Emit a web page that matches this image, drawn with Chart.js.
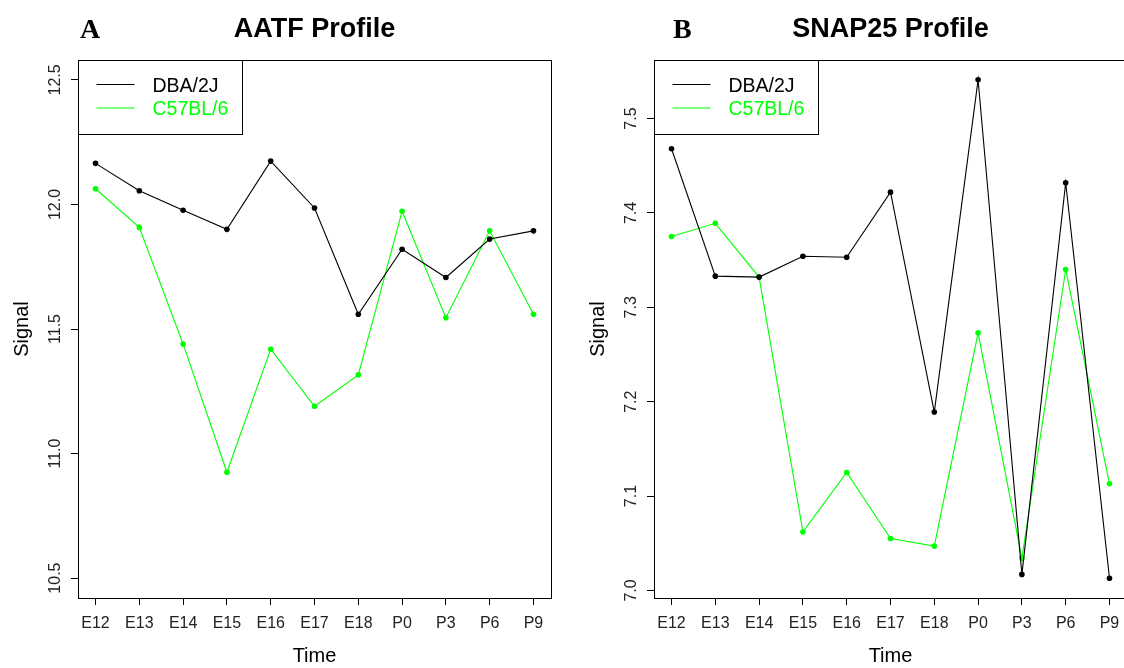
<!DOCTYPE html>
<html>
<head>
<meta charset="utf-8">
<title>AATF / SNAP25 Profile</title>
<script src="https://cdn.jsdelivr.net/npm/chart.js@4.4.1/dist/chart.umd.min.js"></script>
<style>
  html, body { margin: 0; padding: 0; background: #fff; }
  body { width: 1124px; height: 668px; overflow: hidden; position: relative; }
  .panel { position: absolute; top: 0; width: 576px; height: 668px; }
</style>
</head>
<body>
<div class="panel" style="left:0"><canvas id="aatfChart" width="576" height="668"></canvas></div>
<div class="panel" style="left:576px"><canvas id="snapChart" width="576" height="668"></canvas></div>

<script>
// Time points shared by both profiles
const timePoints = ['E12', 'E13', 'E14', 'E15', 'E16', 'E17', 'E18', 'P0', 'P3', 'P6', 'P9'];

// AATF signal per strain
const aatfDBA = [12.165, 12.055, 11.977, 11.900, 12.174, 11.986, 11.559, 11.820, 11.707, 11.861, 11.894];
const aatfB6  = [12.063, 11.908, 11.440, 10.925, 11.419, 11.190, 11.316, 11.973, 11.545, 11.894, 11.559];
const aatfTicks = [10.5, 11.0, 11.5, 12.0, 12.5];

// SNAP25 signal per strain
const snapDBA = [7.468, 7.333, 7.332, 7.354, 7.353, 7.422, 7.189, 7.541, 7.017, 7.432, 7.013];
const snapB6  = [7.375, 7.389, 7.332, 7.062, 7.125, 7.055, 7.047, 7.273, 7.034, 7.340, 7.113];
const snapTicks = [7.0, 7.1, 7.2, 7.3, 7.4, 7.5];

const SANS = '"Liberation Sans", Arial, Helvetica, sans-serif';
Chart.defaults.font.family = SANS;
Chart.defaults.color = '#000';

/**
 * Box around the plotting region (R style bty="o")
 */
const frameBox = {
  id: 'frameBox',
  afterDraw(chart) {
    const { ctx, chartArea: a } = chart;
    ctx.save();
    ctx.strokeStyle = '#000';
    ctx.lineWidth = 1;
    ctx.strokeRect(Math.round(a.left) + 0.5, Math.round(a.top) + 0.5,
      Math.round(a.right - a.left), Math.round(a.bottom - a.top));
    ctx.restore();
  }
};

/**
 * Legend drawn inside the top-left corner of the plot
 */
const insetLegend = {
  id: 'insetLegend',
  afterDatasetsDraw(chart) {
    const { ctx, chartArea: a } = chart;
    const x0 = Math.round(a.left) + 0.5;
    const y0 = Math.round(a.top) + 0.5;
    ctx.save();
    ctx.fillStyle = '#fff';
    ctx.fillRect(x0, y0, 164, 74);
    ctx.strokeStyle = '#000';
    ctx.lineWidth = 1;
    ctx.strokeRect(x0, y0, 164, 74);
    ctx.font = '19.5px ' + SANS;
    ctx.textBaseline = 'middle';
    ctx.textAlign = 'left';
    chart.data.datasets.forEach((ds, i) => {
      const ly = y0 + 24 + i * 23.5;
      ctx.strokeStyle = ds.borderColor;
      ctx.beginPath();
      ctx.moveTo(x0 + 18, ly);
      ctx.lineTo(x0 + 56, ly);
      ctx.stroke();
      ctx.fillStyle = ds.borderColor;
      ctx.fillText(ds.label, x0 + 74, ly + 2);
    });
    ctx.restore();
  }
};

/**
 * Panel letter (A / B) in the top-left corner
 */
const panelTag = {
  id: 'panelTag',
  afterDraw(chart, args, opts) {
    if (!opts || !opts.text) return;
    const { ctx } = chart;
    ctx.save();
    ctx.font = 'bold 28px "Liberation Serif", "Times New Roman", serif';
    ctx.fillStyle = '#000';
    ctx.textBaseline = 'alphabetic';
    ctx.textAlign = 'left';
    ctx.fillText(opts.text, opts.x, 38);
    ctx.restore();
  }
};

/**
 * Profile chart: two strains over time, linear x so the ends get R's 4% margin
 */
function createProfileChart(canvasId, opts) {
  const ctx = document.getElementById(canvasId).getContext('2d');
  const toPoints = arr => arr.map((v, i) => ({ x: i, y: v }));
  const series = (label, values, color) => ({
    label: label,
    data: toPoints(values),
    borderColor: color,
    backgroundColor: color,
    borderWidth: 1.1,
    tension: 0,
    pointRadius: 2.8,
    pointBorderWidth: 0,
    pointBackgroundColor: color
  });

  return new Chart(ctx, {
    type: 'line',
    data: {
      datasets: [
        series('DBA/2J', opts.dba, '#000000'),
        series('C57BL/6', opts.b6, '#00ff00')
      ]
    },
    options: {
      responsive: false,
      animation: false,
      layout: { padding: { left: 0, right: 25, top: 0, bottom: 0 } },
      plugins: {
        legend: { display: false },
        tooltip: { enabled: false },
        title: {
          display: true,
          text: opts.title,
          fullSize: false,
          color: '#000',
          font: { size: 27, weight: 'bold', lineHeight: 1.2 },
          padding: { top: 13, bottom: 14.6 }
        },
        panelTag: { text: opts.tag, x: opts.tagX }
      },
      scales: {
        x: {
          type: 'linear',
          min: -0.4,
          max: timePoints.length - 1 + 0.4,
          afterBuildTicks: s => { s.ticks = timePoints.map((_, i) => ({ value: i })); },
          afterFit: s => { s.height = 70; },
          ticks: {
            callback: v => timePoints[v],
            color: '#222',
            font: { size: 16 },
            padding: 9,
            autoSkip: false,
            maxRotation: 0
          },
          grid: { drawOnChartArea: false, color: '#000', tickLength: 7 },
          border: { color: '#000' },
          title: {
            display: true,
            text: 'Time',
            color: '#000',
            font: { size: 20 },
            padding: { top: 0, bottom: 0 }
          }
        },
        y: {
          type: 'linear',
          min: opts.yMin,
          max: opts.yMax,
          afterBuildTicks: s => { s.ticks = opts.ticks.map(v => ({ value: v })); },
          afterFit: s => { s.width = 78; },
          ticks: {
            callback: v => Number(v).toFixed(1),
            color: '#222',
            font: { size: 16 },
            minRotation: 90,
            maxRotation: 90,
            crossAlign: 'center',
            padding: opts.labelPad
          },
          grid: { drawOnChartArea: false, color: '#000', tickLength: 7 },
          border: { color: '#000' },
          title: {
            display: true,
            text: 'Signal',
            color: '#000',
            font: { size: 20 },
            padding: { top: 10, bottom: 0 }
          }
        }
      }
    },
    plugins: [frameBox, insetLegend, panelTag]
  });
}

createProfileChart('aatfChart', {
  title: 'AATF Profile', tag: 'A', tagX: 80,
  dba: aatfDBA, b6: aatfB6,
  yMin: 10.42, yMax: 12.58, ticks: aatfTicks, labelPad: 0
});

createProfileChart('snapChart', {
  title: 'SNAP25 Profile', tag: 'B', tagX: 97,
  dba: snapDBA, b6: snapB6,
  yMin: 6.992, yMax: 7.562, ticks: snapTicks, labelPad: 4
});
</script>
</body>
</html>
